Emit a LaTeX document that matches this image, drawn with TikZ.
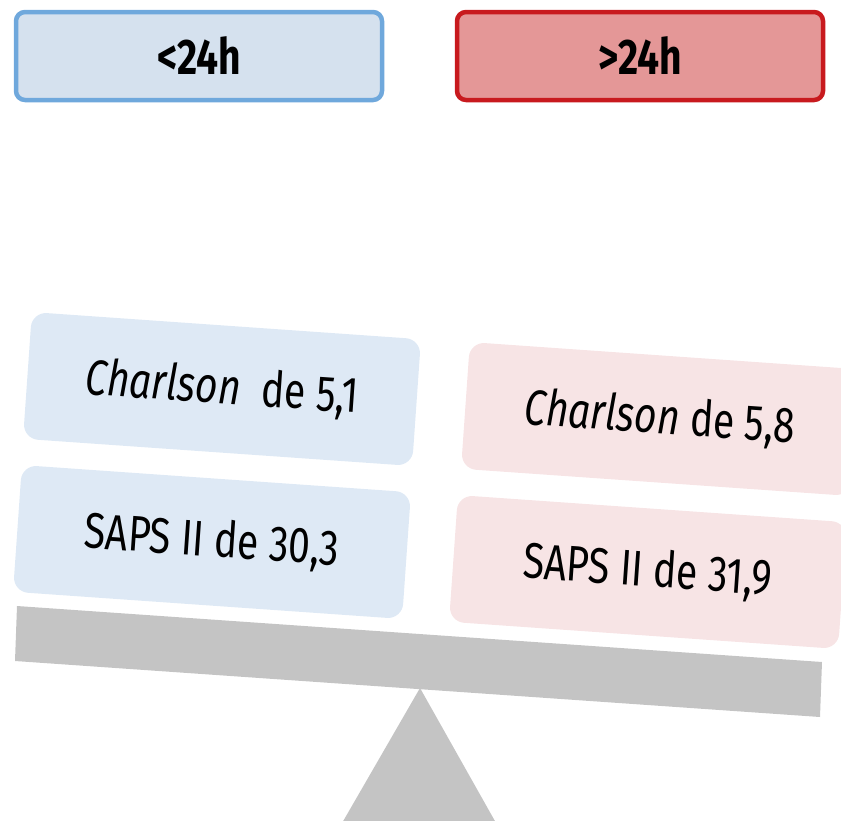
\documentclass[tikz,border=0pt]{standalone}
\usepackage{fontspec}
\setmainfont[FakeStretch=0.78]{Fira Sans}
\definecolor{shortblue}{HTML}{6FA8DC}
\definecolor{shortfill}{HTML}{D5E1EE}
\definecolor{longred}{HTML}{C81A1E}
\definecolor{longfill}{HTML}{E49797}
\definecolor{scoreblue}{HTML}{DEE9F5}
\definecolor{scorered}{HTML}{F7E4E5}
\definecolor{scalegrey}{HTML}{C4C4C4}
\tikzset{
	groupbox/.style={line width=4.5pt,rounded corners=9pt,minimum width=366pt,minimum height=88pt,font=\fontsize{50}{54}\selectfont\bfseries},%
	groupshort/.style={groupbox,draw=shortblue,fill=shortfill},%
	grouplong/.style={groupbox,draw=longred,fill=longfill},%
	scorebox/.style={rounded corners=15pt,minimum width=390pt,minimum height=127pt,rotate=\tiltangle,font=\fontsize{50}{54}\selectfont},%
	scoreshort/.style={scorebox,fill=scoreblue},%
	scorelong/.style={scorebox,fill=scorered},%
	beam/.style={fill=scalegrey},%
	pivot/.style={fill=scalegrey},%
}
\def\tiltangle{-4}
\begin{document}
\begin{tikzpicture}[x=1pt,y=-1pt]
		\useasboundingbox (0,0) rectangle (841,820);
		\node[groupshort] (short) at (199,56) {<24h};
		\node[grouplong] (long) at (640,56) {>24h};
		\fill[pivot] (420,688) -- (500,830) -- (338,830) -- cycle;
		\fill[beam] (17,606) -- (822,662) -- (820,717) -- (15,661) -- cycle;
		\node[scoreshort] (charlsonshort) at (222,389) {\textit{Charlson}\ \ de 5,1};
		\node[scoreshort] (sapsshort) at (212,542) {SAPS II de 30,3};
		\node[scorelong] (charlsonlong) at (660,419) {\textit{Charlson} de 5,8};
		\node[scorelong] (sapslong) at (648,572) {SAPS II de 31,9};
	\end{tikzpicture}
\end{document}
